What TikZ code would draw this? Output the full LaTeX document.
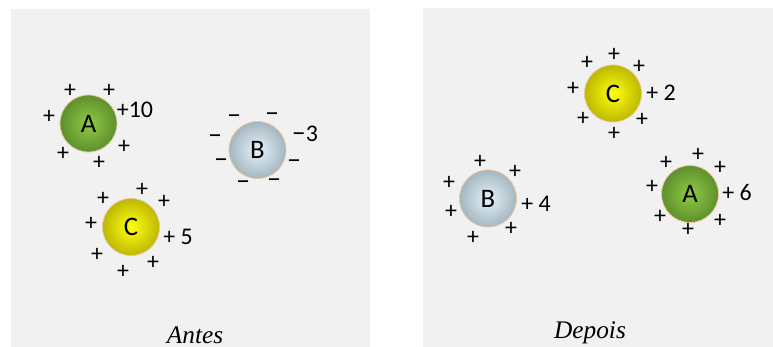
\documentclass[tikz,border=0pt]{standalone}
\usepackage{fontspec}
\setmainfont{Carlito}
\newfontfamily\legfont{Liberation Serif}

\definecolor{painel}{HTML}{F1F1F1}
\definecolor{borda}{HTML}{E6C7A2}
\definecolor{verdeC}{HTML}{90CA44}
\definecolor{verdeE}{HTML}{5E8F2C}
\definecolor{amareloC}{HTML}{FFFF10}
\definecolor{amareloE}{HTML}{BDB800}
\definecolor{azulC}{HTML}{E6F3F9}
\definecolor{azulE}{HTML}{A3B6C0}

\tikzset{
  esfera/.style={circle, minimum size=1.425cm, inner sep=0pt, draw=borda, line width=0.6pt, font=\fontsize{19}{19}\selectfont},
  verde/.style={esfera, shading=radial, inner color=verdeC, outer color=verdeE},
  amarelo/.style={esfera, shading=radial, inner color=amareloC, outer color=amareloE},
  azul/.style={esfera, shading=radial, inner color=azulC, outer color=azulE},
  sinal/.style={inner sep=0pt, font=\fontsize{17}{17}\selectfont},
  menos/.style={inner sep=0pt, font=\fontsize{20}{20}\selectfont},
  carga/.style={inner sep=0pt, font=\fontsize{17}{17}\selectfont},
  legenda/.style={inner sep=0pt, anchor=base, font=\legfont\itshape\fontsize{18}{18}\selectfont}
}

\begin{document}
\begin{tikzpicture}[x=0.025cm, y=-0.025cm]
    \useasboundingbox (0,0) rectangle (773,347);

    % Paineis
    \fill[painel] (11,9.5) rectangle (370,347);
    \fill[painel] (423,8) rectangle (773,347);

    % Antes
    \node[verde] (antesA) at (88.5,123.5) {A};
    \node[azul] (antesB) at (257.5,150) {B};
    \node[amarelo] (antesC) at (131,227) {C};

    \node[sinal] (a1) at (70,91) {+};  \node[sinal] (a2) at (109,91) {+};
    \node[sinal] (a3) at (49,117) {+}; \node[sinal] (a4) at (63,154) {+};
    \node[sinal] (a5) at (99,163) {+}; \node[sinal] (a6) at (124,147) {+};
    \node[carga] (qa) at (135,110) {+10};

    \node[menos] (b1) at (234,119) {–}; \node[menos] (b2) at (272,117) {–};
    \node[menos] (b3) at (215,139) {–}; \node[menos] (b4) at (221,163) {–};
    \node[menos] (b5) at (294,164) {–}; \node[menos] (b6) at (243,185) {–};
    \node[menos] (b7) at (274,183) {–};
    \node[carga] (qb) at (305,134) {\fontsize{20}{20}\selectfont–\fontsize{17}{17}\selectfont3};

    \node[sinal] (c1) at (142,190) {+}; \node[sinal] (c2) at (103,199) {+};
    \node[sinal] (c3) at (164,202) {+}; \node[sinal] (c4) at (91,224) {+};
    \node[sinal] (c5) at (97,255) {+};  \node[sinal] (c6) at (153,263) {+};
    \node[sinal] (c7) at (123,272) {+};
    \node[carga] (qc) at (178,237) {+ 5};

    \node[legenda] (antes) at (195,343) {Antes};

    % Depois
    \node[azul] (depoisB) at (488,198.5) {B};
    \node[amarelo] (depoisC) at (613,93.5) {C};
    \node[verde] (depoisA) at (690,194) {A};

    \node[sinal] (d1) at (480,162) {+}; \node[sinal] (d2) at (515,172) {+};
    \node[sinal] (d3) at (449,183) {+}; \node[sinal] (d4) at (451,212) {+};
    \node[sinal] (d5) at (511,229) {+}; \node[sinal] (d6) at (473,238) {+};
    \node[carga] (qd) at (536,204) {+ 4};

    \node[sinal] (e1) at (614,55) {+};  \node[sinal] (e2) at (587,63) {+};
    \node[sinal] (e3) at (639,67) {+};  \node[sinal] (e4) at (573,89) {+};
    \node[sinal] (e5) at (583,119) {+}; \node[sinal] (e6) at (642,120) {+};
    \node[sinal] (e7) at (614,134) {+};
    \node[carga] (qe) at (661,93) {+ 2};

    \node[sinal] (f1) at (698,155) {+}; \node[sinal] (f2) at (666,163) {+};
    \node[sinal] (f3) at (720,168) {+}; \node[sinal] (f4) at (652,187) {+};
    \node[sinal] (f5) at (660,217) {+}; \node[sinal] (f6) at (720,221) {+};
    \node[sinal] (f7) at (688,230) {+};
    \node[carga] (qf) at (737,193) {+ 6};

    \node[legenda] (depois) at (590,338) {Depois};
\end{tikzpicture}
\end{document}
